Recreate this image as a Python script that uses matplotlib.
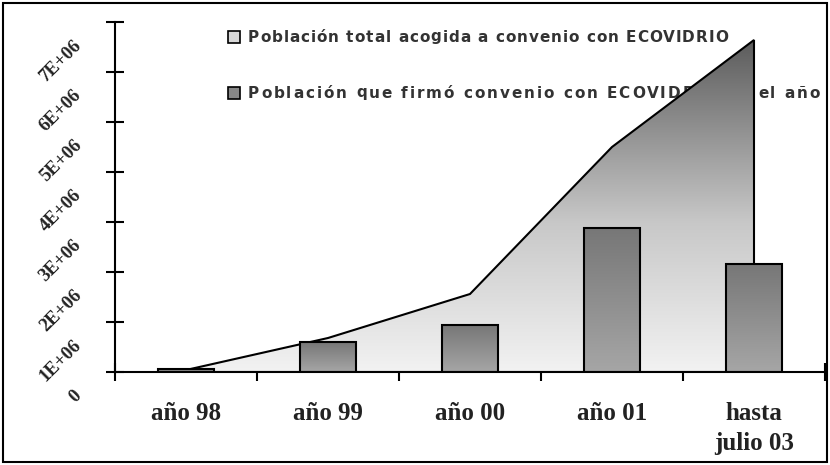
import numpy as np
import matplotlib.pyplot as plt
from matplotlib.patches import Polygon, Rectangle
from matplotlib.colors import LinearSegmentedColormap

categories = ['año 98', 'año 99', 'año 00', 'año 01', 'hasta\njulio 03']
total = [0.04e6, 0.68e6, 1.56e6, 4.5e6, 6.64e6]      # población total acogida
firmado = [0.06e6, 0.6e6, 0.94e6, 2.88e6, 2.16e6]     # firmó en el año
ytick_vals = [0, 1e6, 2e6, 3e6, 4e6, 5e6, 6e6, 7e6]
ytick_labels = ['0', '1E+06', '2E+06', '3E+06', '4E+06', '5E+06', '6E+06', '7E+06']
leg_labels = ['Población total acogida a convenio con ECOVIDRIO',
              'Población que firmó convenio con ECOVIDRIO en el año']

W, H = 830, 465
fig = plt.figure(figsize=(W / 100, H / 100), dpi=100)
ax = fig.add_axes([115 / W, 93 / H, 710 / W, 350 / H])
x = np.arange(len(categories))
grad = np.linspace(0, 1, 256).reshape(-1, 1)

# area con degradado
verts = list(zip(x, total)) + [(x[-1], 0), (x[0], 0)]
poly = Polygon(verts, closed=True, facecolor='none', edgecolor='black', lw=1.5, zorder=3)
ax.add_patch(poly)
cmap = LinearSegmentedColormap.from_list('g', [(0, '#f2f2f2'), (0.45, '#c8c8c8'), (1, '#5c5c5c')])
im = ax.imshow(grad, cmap=cmap, aspect='auto', origin='lower',
               extent=(x[0], x[-1], 0, max(total)), zorder=2)
im.set_clip_path(poly)

# barras con degradado vertical
bw = 0.4
bcmap = LinearSegmentedColormap.from_list('b', ['#a6a6a6', '#777777'])
for xi, v in zip(x, firmado):
    r = Rectangle((xi - bw / 2, 0), bw, v, facecolor='none', edgecolor='black', lw=1.5, zorder=5)
    ax.add_patch(r)
    bi = ax.imshow(grad, cmap=bcmap, aspect='auto', origin='lower',
                   extent=(xi - bw / 2, xi + bw / 2, 0, v), zorder=4)
    bi.set_clip_path(r)
ax.set_xlim(-0.5, 4.5)
ax.set_ylim(0, 7e6)

for s in ['top', 'right']:
    ax.spines[s].set_visible(False)
for s in ['left', 'bottom']:
    ax.spines[s].set_linewidth(1.5)
    ax.spines[s].set_zorder(6)
ax.set_facecolor('none')

ax.set_xticks(np.arange(-0.5, 5, 1))
ax.set_xticklabels([])
ax.set_yticks(ytick_vals)
ax.set_yticklabels([])
ax.tick_params(axis='both', direction='inout', length=13, width=1.5, color='black')

# etiquetas de categorias (una linea por texto)
for xi, lab in zip(x, categories):
    for k, line in enumerate(lab.split('\n')):
        ax.annotate(line, xy=(xi, 0), xycoords='data', xytext=(0, -34.5 - 22 * k),
                    textcoords='offset points', ha='center', va='baseline', fontsize=18,
                    fontweight='bold', family='Liberation Serif', color='#222222')

# etiquetas eje y giradas
for v, lab in zip(ytick_vals, ytick_labels):
    ax.annotate(lab, xy=(0, v), xycoords=('axes fraction', 'data'), xytext=(-26, -15),
                textcoords='offset points', ha='right', va='center', rotation=45,
                rotation_mode='anchor', fontsize=13.5, fontweight='bold',
                family='Liberation Serif', color='#222222')

# leyenda con espaciado entre letras (queda debajo del area)
renderer = fig.canvas.get_renderer()
leg_y = [37, 93]
leg_width = [480, 572]
leg_colors = ['#d8d8d8', '#888888']
fkw = dict(fontsize=11, fontweight='bold', family='DejaVu Sans', color='#333333', zorder=1)

t0 = fig.text(0, 0, '|', **fkw)
bar_w = t0.get_window_extent(renderer).width
t0.remove()


def text_w(s):
    t = fig.text(0, 0, s + '|', **fkw)
    w = t.get_window_extent(renderer).width
    t.remove()
    return w - bar_w


for yy, lab, c, tw in zip(leg_y, leg_labels, leg_colors, leg_width):
    fig.patches.append(Rectangle((228 / W, 1 - (yy + 6) / H), 12 / W, 12 / H, transform=fig.transFigure,
                                 facecolor=c, edgecolor='black', lw=1.2, zorder=1))
    track = (tw - text_w(lab)) / (len(lab) - 1)
    for i, ch in enumerate(lab):
        if ch == ' ':
            continue
        px = 248 + text_w(lab[:i]) + i * track
        fig.text(px / W, 1 - yy / H, ch, ha='left', va='center', **fkw)

fig.patches.append(Rectangle((3 / W, 3 / H), 824 / W, 459 / H, transform=fig.transFigure,
                             facecolor='none', edgecolor='black', lw=1.5))
ax.set_zorder(2)
fig.savefig('out.png', dpi=100)
